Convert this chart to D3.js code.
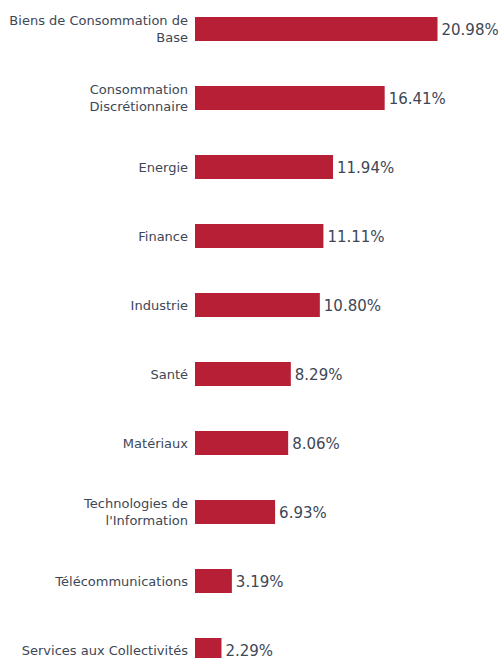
<!DOCTYPE html>
<html><head><meta charset="utf-8">
<script src="https://cdn.jsdelivr.net/npm/d3@7"></script>
<style>body{margin:0;background:#fff;}svg{display:block;}</style>
</head><body>
<svg id="c" width="501" height="658"></svg>
<script>
const categories = ["Biens de Consommation de\nBase","Consommation\nDiscrétionnaire","Energie","Finance","Industrie","Santé","Matériaux","Technologies de\nl'Information","Télécommunications","Services aux Collectivités"];
const values = [20.98,16.41,11.94,11.11,10.80,8.29,8.06,6.93,3.19,2.29];
const valueLabels = ["20.98%","16.41%","11.94%","11.11%","10.80%","8.29%","8.06%","6.93%","3.19%","2.29%"];

const svg = d3.select("#c");
const x = d3.scaleLinear().domain([0, 20.98]).range([195, 437.5]);
const y = d3.scaleBand().domain(categories).range([17, 662]).paddingInner(45/69).paddingOuter(0);
const textColor = "#3d4756";
const font = "DejaVu Sans, Verdana, sans-serif";

svg.selectAll("rect.bar").data(values).join("rect")
  .attr("x", x(0)).attr("y", (d,i)=>y(categories[i]))
  .attr("width", d=>x(d)-x(0)).attr("height", y.bandwidth())
  .attr("fill", "#b71f36");

svg.selectAll("text.val").data(values).join("text")
  .attr("x", d=>x(d)+4).attr("y", (d,i)=>y(categories[i])+y.bandwidth()/2+1)
  .attr("dy","0.35em").attr("font-family", font).attr("font-size", 15)
  .attr("fill", textColor).text((d,i)=>valueLabels[i]);

const lab = svg.selectAll("text.cat").data(categories).join("text")
  .attr("text-anchor","end").attr("font-family", font).attr("font-size", 13)
  .attr("fill", textColor);
lab.each(function(c){
  const lines = c.split("\n");
  const cy = y(c)+y.bandwidth()/2;
  const lh = 16.5;
  const t = d3.select(this);
  lines.forEach((l,k)=>{
    t.append("tspan").attr("x",188)
     .attr("y", cy + (k-(lines.length-1)/2)*lh).attr("dy","0.35em").text(l);
  });
});
</script>
</body></html>
